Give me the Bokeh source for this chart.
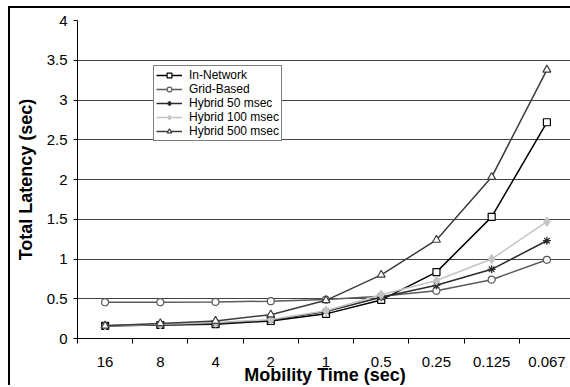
from bokeh.plotting import figure
from bokeh.models import (Range1d, FixedTicker, CustomJSTickFormatter, NumeralTickFormatter, Legend)
from bokeh.embed import file_html
from bokeh.resources import INLINE

mobility = ["16", "8", "4", "2", "1", "0.5", "0.25", "0.125", "0.067"]
in_network = [0.16, 0.17, 0.18, 0.22, 0.31, 0.485, 0.835, 1.53, 2.72]
grid_based = [0.456, 0.456, 0.46, 0.47, 0.49, 0.53, 0.60, 0.74, 0.99]
hybrid_50 = [0.16, 0.17, 0.19, 0.23, 0.34, 0.52, 0.67, 0.87, 1.23]
hybrid_100 = [0.16, 0.18, 0.20, 0.24, 0.35, 0.55, 0.73, 1.00, 1.47]
hybrid_500 = [0.16, 0.19, 0.22, 0.30, 0.48, 0.80, 1.24, 2.03, 3.38]
y_ticks = [0, 0.5, 1, 1.5, 2, 2.5, 3, 3.5, 4]

FONT = "Liberation Sans"
xs = [i + 0.5 for i in range(len(mobility))]

# canvas starts at (10, 8) after a 2px border placed at (8, 6)
p = figure(width=560, height=377, output_backend="svg", toolbar_location=None,
           x_range=Range1d(0, 493 / 55), y_range=Range1d(0, 4),
           min_border_left=67, min_border_top=12, min_border_right=0, min_border_bottom=49)
p.margin = (6, 0, 0, 8)
p.styles = {"border-left": "2px solid black", "border-top": "2px solid black",
            "box-sizing": "content-box", "overflow": "hidden", "vertical-align": "top"}
p.outline_line_color = None
p.background_fill_color = "white"
p.border_fill_color = "white"

# grid
p.xgrid.visible = False
p.ygrid.ticker = FixedTicker(ticks=y_ticks)
p.ygrid.grid_line_color = "#444444"
p.ygrid.grid_line_width = 1

# x axis
xa = p.xaxis[0]
xa.ticker = FixedTicker(ticks=xs, minor_ticks=list(range(len(mobility) + 1)))
xa.formatter = CustomJSTickFormatter(args=dict(labels=mobility),
                                     code="return labels[Math.round(tick - 0.5)];")
xa.major_tick_out = 0
xa.major_tick_in = 0
xa.minor_tick_out = 5
xa.minor_tick_in = 0
xa.minor_tick_line_color = "black"
xa.axis_line_color = "black"
xa.major_label_text_font = FONT
xa.major_label_text_font_size = "15px"
xa.major_label_text_color = "black"
xa.major_label_standoff = 13
xa.axis_label = "Mobility Time (sec)"
xa.axis_label_text_font = FONT
xa.axis_label_text_font_size = "18px"
xa.axis_label_text_font_style = "bold"
xa.axis_label_text_color = "black"
xa.axis_label_standoff = -5

# y axis
ya = p.yaxis[0]
ya.ticker = FixedTicker(ticks=y_ticks)
ya.formatter = NumeralTickFormatter(format="0.[0]")
ya.major_tick_out = 4
ya.major_tick_in = 0
ya.minor_tick_out = 0
ya.minor_tick_in = 0
ya.axis_line_color = "black"
ya.major_tick_line_color = "black"
ya.major_label_text_font = FONT
ya.major_label_text_font_size = "15px"
ya.major_label_text_color = "black"
ya.major_label_standoff = 6
ya.axis_label = "Total Latency (sec)"
ya.axis_label_text_font = FONT
ya.axis_label_text_font_size = "18px"
ya.axis_label_text_font_style = "bold"
ya.axis_label_text_color = "black"
ya.axis_label_standoff = 8

series = [
    ("In-Network", in_network, "black", "square", "white", 7),
    ("Grid-Based", grid_based, "#5a5a5a", "circle", "white", 7),
    ("Hybrid 50 msec", hybrid_50, "#2a2a2a", "asterisk", None, 8),
    ("Hybrid 100 msec", hybrid_100, "#c4c4c4", "diamond", "#c4c4c4", 9),
    ("Hybrid 500 msec", hybrid_500, "#3c3c3c", "triangle", "white", 8),
]

items = []
for name, vals, col, mk, fill, sz in series:
    r1 = p.line(xs, vals, line_color=col, line_width=1.5)
    r2 = p.scatter(xs, vals, marker=mk, size=sz, line_color=col,
                   fill_color=fill if fill else col, line_width=1.2)
    items.append((name, [r1, r2]))

legend = Legend(items=items, location=(76, 197))
legend.label_text_font = FONT
legend.label_text_font_size = "12px"
legend.label_text_color = "black"
legend.label_height = 12
legend.glyph_height = 12
legend.glyph_width = 26
legend.spacing = 0
legend.padding = 2
legend.margin = 0
legend.label_standoff = 7
legend.border_line_color = "black"
legend.border_line_width = 1
legend.background_fill_color = "white"
legend.background_fill_alpha = 1
p.add_layout(legend)

open("out.html", "w").write(file_html(p, INLINE))
